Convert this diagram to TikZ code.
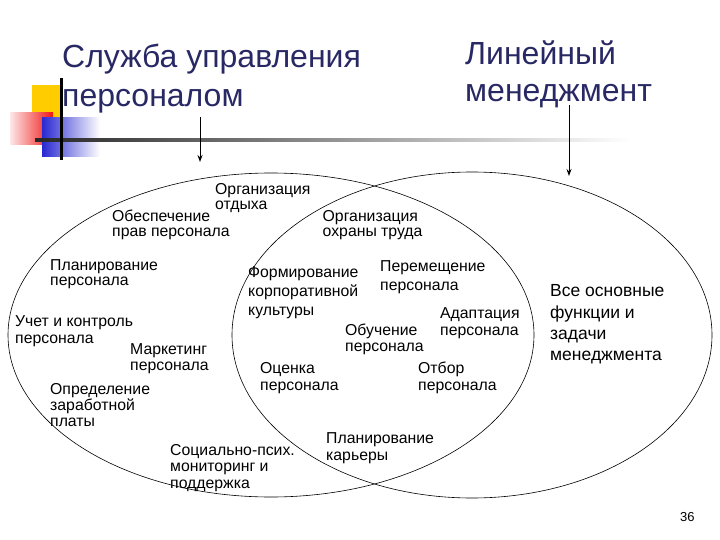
\documentclass[tikz,border=0pt]{standalone}
\usepackage{fontspec}
\setmainfont{Liberation Sans}
\usetikzlibrary{arrows.meta}
\definecolor{titleblue}{RGB}{40,40,100}
\definecolor{decoyellow}{RGB}{255,204,0}
\definecolor{decored}{RGB}{240,20,20}
\definecolor{decoblue}{RGB}{40,40,210}
% anchor base west = baseline of the LAST line of a multi-line node
\tikzset{
  lbl/.style={anchor=base west, inner sep=0pt, align=left},
  sz/.style={font=\fontsize{15.8}{#1}\selectfont},
  title/.style={anchor=base west, inner sep=0pt, align=left, text=titleblue},
  big/.style={anchor=base west, inner sep=0pt, align=left, font=\fontsize{17.5}{21.3}\selectfont},
  pointer/.style={draw=black, line width=1pt, -{Stealth[length=7pt,width=5pt]}},
  oval/.style={draw=black, line width=0.6pt}
}
\begin{document}
\begin{tikzpicture}[x=1pt,y=-1pt]
\useasboundingbox (0,0) rectangle (720,540);
% decoration
\fill[decoyellow] (32,85) rectangle (62,120);
\shade[left color=decored!10, right color=decored] (10,113) rectangle (53,145);
\shade[left color=decoblue, right color=white] (42,118) rectangle (100,157);
\shade[left color=black!85, right color=white] (35,138.5) rectangle (630,141.5);
\fill[black] (60,78) rectangle (62.5,160);
% ellipses
\draw[oval] (271,335) ellipse [x radius=263, y radius=162];
\draw[oval] (472,335) ellipse [x radius=240, y radius=163];
% titles
\node[title, font=\fontsize{32}{39}\selectfont] (t1) at (62,107) {Служба управления\\персоналом};
\node[title, font=\fontsize{32}{37}\selectfont] (t2) at (465,102) {Линейный\\менеджмент};
\coordinate (a1s) at (200,117);
\coordinate (a1e) at (200,162);
\coordinate (a2s) at (569,105);
\coordinate (a2e) at (569,176);
\draw[pointer] (a1s) -- (a1e);
\draw[pointer] (a2s) -- (a2e);
% labels
\node[lbl, sz=14.5] (n1) at (215,209.5) {Организация\\отдыха};
\node[lbl, sz=15] (n2) at (112,236.7) {Обеспечение\\прав персонала};
\node[lbl, sz=15] (n3) at (322.5,236.7) {Организация\\охраны труда};
\node[lbl, sz=14.3] (n4) at (50,285) {Планирование\\персонала};
\node[lbl, sz=17] (n5) at (15,343) {Учет и контроль\\персонала};
\node[lbl, sz=16] (n6) at (130,370) {Маркетинг\\персонала};
\node[lbl, sz=16.3] (n7) at (50,426.7) {Определение\\заработной\\платы};
\node[lbl, sz=19] (n8) at (248,315) {Формирование\\корпоративной\\культуры};
\node[lbl, sz=18.3] (n9) at (380,290) {Перемещение\\персонала};
\node[lbl, sz=17] (n10) at (440,335) {Адаптация\\персонала};
\node[lbl, sz=16.7] (n11) at (345,351.7) {Обучение\\персонала};
\node[lbl, sz=17] (n12) at (260,390) {Оценка\\персонала};
\node[lbl, sz=17] (n13) at (418,390) {Отбор\\персонала};
\node[lbl, sz=16.5] (n14) at (170,488) {Социально-псих.\\мониторинг и\\поддержка};
\node[lbl, sz=17] (n15) at (326,460) {Планирование\\карьеры};
\node[big] (n16) at (550,360.7) {Все основные\\функции и\\задачи\\менеджмента};
\node[anchor=base west, inner sep=0pt, font=\fontsize{13}{15}\selectfont] (pg) at (680,521) {36};
\end{tikzpicture}
\end{document}
